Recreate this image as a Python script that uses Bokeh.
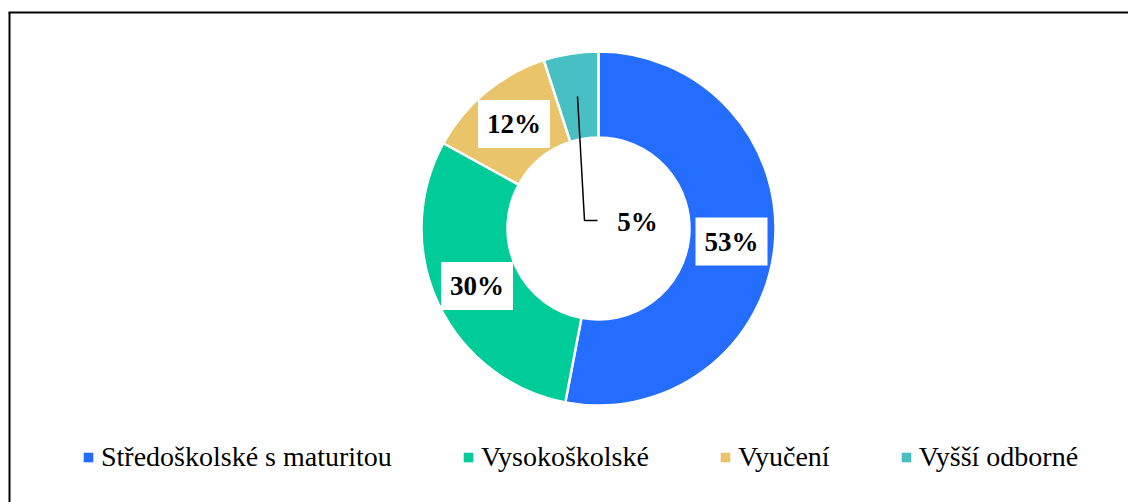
import math
from bokeh.plotting import figure
from bokeh.models import Range1d, Legend, LegendItem
from bokeh.core.properties import value
from bokeh.embed import file_html
from bokeh.resources import INLINE

categories = ["Středoškolské s maturitou", "Vysokoškolské", "Vyučení", "Vyšší odborné"]
shares = [53, 30, 12, 5]
labels = ["53%", "30%", "12%", "5%"]
colors = ["#246DFF", "#00CC99", "#E9C46A", "#48BFC3"]

FONT = "Liberation Serif"

W, H = 1128, 502
p = figure(width=W, height=H, output_backend="svg", toolbar_location=None,
           x_range=Range1d(0, W), y_range=Range1d(0, H),
           min_border=0, outline_line_color=None, background_fill_color="white",
           border_fill_color="white")
p.xaxis.visible = False
p.yaxis.visible = False
p.xgrid.visible = False
p.ygrid.visible = False

def Y(py):
    return H - py

cx, cy = 598, Y(228)
r_out, r_in = 177, 91

total = float(sum(shares))
starts, ends = [], []
cum = 0.0
for s in shares:
    starts.append(math.pi / 2 - 2 * math.pi * cum / total)
    cum += s
    ends.append(math.pi / 2 - 2 * math.pi * cum / total)

legend_proxies = []
for i in range(4):
    p.annular_wedge(x=cx, y=cy, inner_radius=r_in, outer_radius=r_out,
                    start_angle=starts[i], end_angle=ends[i], direction="clock",
                    fill_color=colors[i], line_color="white", line_width=2.5)
    # legend swatch (no outline) for the same category; zero-size so it draws nothing in the plot
    proxy = p.annular_wedge(x=[cx], y=[cy], inner_radius=0, outer_radius=0,
                            start_angle=0, end_angle=0.001, fill_color=colors[i], line_color=None)
    legend_proxies.append(proxy)

# Leader line for the small slice
p.line(x=[577, 584, 597], y=[Y(96), Y(220), Y(220)], line_color="black", line_width=1.5)

# Data labels
lab_x = [731, 476.5, 513.5, 637]
lab_y = [Y(241), Y(285.5), Y(123.5), Y(221)]
p.text(x=lab_x[:3], y=lab_y[:3], text=labels[:3], text_font=value(FONT),
       text_font_size="27px", text_font_style="bold", text_color="black",
       text_align="center", text_baseline="middle",
       background_fill_color="white", padding=9)
p.text(x=lab_x[3:], y=lab_y[3:], text=labels[3:], text_font=value(FONT),
       text_font_size="27px", text_font_style="bold", text_color="black",
       text_align="center", text_baseline="middle")

# Border of the chart area
p.line(x=[9, 9], y=[Y(12), Y(520)], line_color="black", line_width=2)
p.line(x=[8, 1140], y=[Y(12), Y(12)], line_color="black", line_width=2)

legend = Legend(items=[LegendItem(label=categories[i], renderers=[legend_proxies[i]]) for i in range(4)],
                orientation="horizontal", location=(82, 29),
                glyph_width=12, glyph_height=12, label_standoff=7, spacing=70,
                padding=0, margin=0, border_line_color=None, background_fill_alpha=0,
                label_text_font=FONT, label_text_font_size="28px",
                label_text_color="black", label_height=28)
p.add_layout(legend, "center")

open("out.html", "w").write(file_html(p, INLINE))
